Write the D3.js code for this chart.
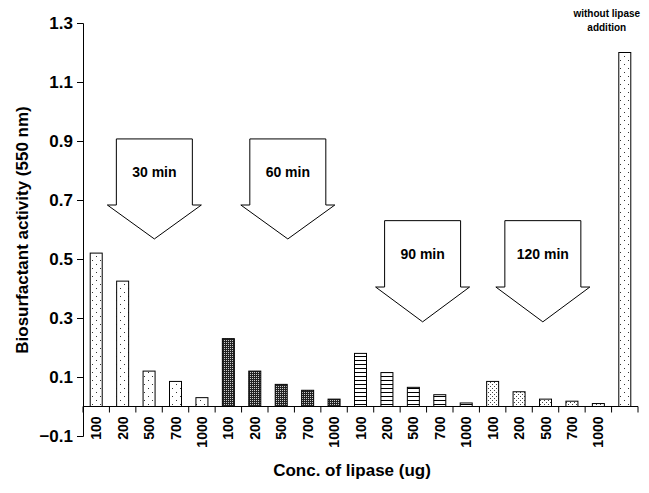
<!DOCTYPE html>
<html><head><meta charset="utf-8">
<script src="https://cdn.jsdelivr.net/npm/d3@7"></script>
<style>body{margin:0;background:#fff}text{font-family:"Liberation Sans",Arial,sans-serif}</style>
</head><body>
<script>
// data
var doses = ['100','200','500','700','1000'];
var times = ['30 min','60 min','90 min','120 min'];
var act30 = [0.52, 0.425, 0.12, 0.085, 0.03];
var act60 = [0.23, 0.12, 0.075, 0.055, 0.025];
var act90 = [0.18, 0.115, 0.065, 0.04, 0.012];
var act120 = [0.085, 0.05, 0.025, 0.018, 0.01];
var control = 1.2;
var yTicks = [-0.1, 0.1, 0.3, 0.5, 0.7, 0.9, 1.1, 1.3];
var patNames = ['sparse', 'dense', 'hlines', 'medium'];

var bars = [];
[act30, act60, act90, act120].forEach(function(arr, g){
  arr.forEach(function(v, i){ bars.push({id: g+'-'+i, label: doses[i], v: v, pat: patNames[g]}); });
});
bars.push({id: 'ctrl', label: '', v: control, pat: 'sparse'});

var W = 649, H = 493;
var svg = d3.select('body').append('svg').attr('width', W).attr('height', H);

// patterns
var defs = svg.append('defs');
function dots(name, size, r, col){
  var p = defs.append('pattern').attr('id', name).attr('patternUnits','userSpaceOnUse')
    .attr('width', size).attr('height', size);
  p.append('rect').attr('width', size).attr('height', size).attr('fill','#fff');
  p.append('rect').attr('x',0).attr('y',0).attr('width',r).attr('height',r).attr('fill',col);
  p.append('rect').attr('x',size/2).attr('y',size/2).attr('width',r).attr('height',r).attr('fill',col);
}
dots('sparse', 8, 1, '#333');
dots('medium', 4, 1, '#444');
(function(){
  var p = defs.append('pattern').attr('id','dense').attr('patternUnits','userSpaceOnUse').attr('width',2).attr('height',2);
  p.append('rect').attr('width',2).attr('height',2).attr('fill','#222');
  p.append('rect').attr('width',1).attr('height',1).attr('fill','#ccc');
  var q = defs.append('pattern').attr('id','hlines').attr('patternUnits','userSpaceOnUse').attr('width',4).attr('height',4);
  q.append('rect').attr('width',4).attr('height',4).attr('fill','#fff');
  q.append('rect').attr('y',0).attr('width',4).attr('height',1).attr('fill','#000');
})();

var x = d3.scaleBand().domain(bars.map(function(d){return d.id;})).range([83, 638]);
var y = d3.scaleLinear().domain([-0.1, 1.3]).range([436, 23]);

// y axis
svg.append('g').attr('transform','translate(83,0)')
  .call(d3.axisLeft(y).tickValues(yTicks).tickSize(6).tickFormat(d3.format('.1f')))
  .call(function(g){
    g.select('.domain').attr('stroke','#000');
    g.selectAll('text').attr('font-size', 17).attr('font-weight','bold').attr('fill','#000').attr('dx', -1);
  });

// x axis at zero
var xa = svg.append('g').attr('transform','translate(0,' + y(0) + ')');
xa.append('line').attr('x1',83).attr('x2',638).attr('stroke','#000');
var edges = d3.range(bars.length + 1).map(function(i){ return 83 + i * x.step(); });
xa.selectAll('line.tk').data(edges).enter().append('line').attr('class','tk')
  .attr('x1', function(d){return d;}).attr('x2', function(d){return d;})
  .attr('y1', 0).attr('y2', 6).attr('stroke','#000');
xa.selectAll('text').data(bars).enter().append('text')
  .attr('transform', function(d){ return 'translate(' + (x(d.id) + x.bandwidth()/2 + 5) + ',10) rotate(-90)'; })
  .attr('text-anchor','end').attr('font-size',14).attr('font-weight','bold')
  .text(function(d){return d.label;});

// bars
svg.selectAll('rect.bar').data(bars).enter().append('rect').attr('class','bar')
  .attr('x', function(d){ return x(d.id) + x.bandwidth()/2 - 6; })
  .attr('width', 12)
  .attr('y', function(d){ return y(d.v); })
  .attr('height', function(d){ return y(0) - y(d.v); })
  .attr('fill', function(d){ return 'url(#' + d.pat + ')'; })
  .attr('stroke','#000').attr('stroke-width',1);

// block arrows: centre (in band units), top value, head value, tip value
var arrowPos = [2.7, 7.75, 12.85, 17.4];
var arrowTop = [0.907, 0.907, 0.63, 0.63];
var arrowHead = [0.683, 0.683, 0.405, 0.405];
var arrowTip = [0.568, 0.568, 0.287, 0.287];
times.forEach(function(t, i){
  var cx = 83 + arrowPos[i] * x.step();
  var t0 = y(arrowTop[i]), h = y(arrowHead[i]), tp = y(arrowTip[i]);
  var pts = [[cx-38,t0],[cx+38,t0],[cx+38,h],[cx+47,h],[cx,tp],[cx-47,h],[cx-38,h]];
  svg.append('path').attr('d', d3.line()(pts) + 'Z').attr('fill','#fff').attr('stroke','#000');
  svg.append('text').attr('x', cx).attr('y', t0 + 38).attr('text-anchor','middle')
    .attr('font-size',14).attr('font-weight','bold').attr('font-family','"DejaVu Sans",sans-serif').text(t);
});

// control note
var cxc = x('ctrl') + x.bandwidth()/2;
svg.append('text').attr('x', cxc - 18).attr('y', 17).attr('text-anchor','middle')
  .attr('font-size',10).attr('font-weight','bold').text('without lipase');
svg.append('text').attr('x', cxc - 18).attr('y', 31).attr('text-anchor','middle')
  .attr('font-size',10).attr('font-weight','bold').text('addition');

// titles
svg.append('text').attr('transform','translate(28,230) rotate(-90)').attr('text-anchor','middle')
  .attr('font-size',17).attr('font-weight','bold').text('Biosurfactant activity (550 nm)');
svg.append('text').attr('x', 352).attr('y', 476).attr('text-anchor','middle')
  .attr('font-size',17).attr('font-weight','bold').text('Conc. of lipase (ug)');
</script>
</body></html>
